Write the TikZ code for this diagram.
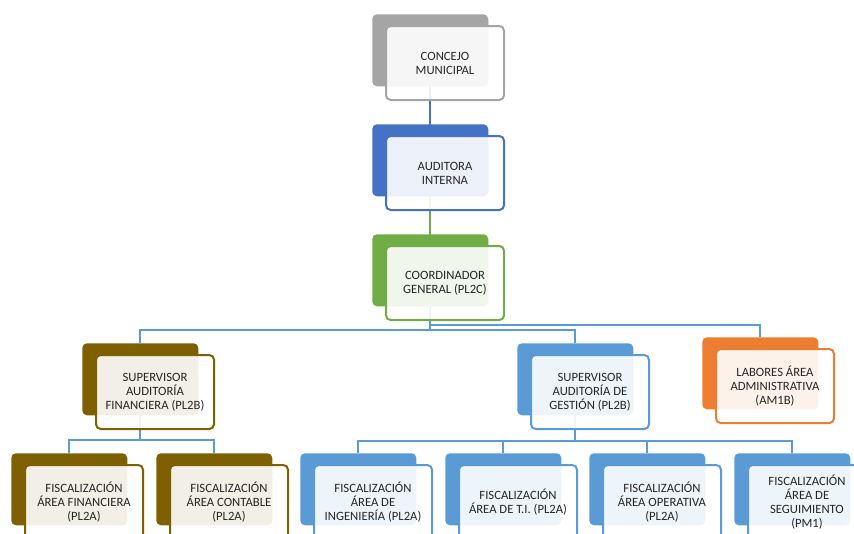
\documentclass[tikz,border=0pt]{standalone}
\usepackage{fontspec}
\setmainfont{Carlito}
\usetikzlibrary{backgrounds}
\definecolor{cgray}{HTML}{A5A5A5}
\definecolor{cblue}{HTML}{4472C4}
\definecolor{cgreen}{HTML}{70AD47}
\definecolor{cbrown}{HTML}{7F6000}
\definecolor{clblue}{HTML}{5B9BD5}
\definecolor{corange}{HTML}{ED7D31}
\begin{document}
\begin{tikzpicture}[x=0.75pt,y=-0.75pt,
  back/.style={fill=#1,rounded corners=3.5pt,anchor=north west,minimum width=87pt,minimum height=54pt,inner sep=0pt},
  front/.style={draw=#1,line width=1.5pt,fill=white,fill opacity=0.9,text opacity=1,rounded corners=3.5pt,anchor=north west,minimum width=88.5pt,minimum height=55.5pt,inner sep=0pt,align=center,text=black!85,font=\fontsize{9.5}{10.5}\selectfont},
  conn/.style={draw=#1,line width=1.5pt}]
  \useasboundingbox (0,0) rectangle (854,533);
  \clip (0,0) rectangle (854,533);
  \coordinate (bar2) at (0,330);
  \coordinate (bar2r) at (0,325);
  \coordinate (bar3) at (0,440);
  \coordinate (bar3r) at (0,441);

  \node[back=cgray] (concejo-b) at (372,14) {};
  \node[front=cgray] (concejo) at ([shift={(13,11)}]concejo-b.north west) {CONCEJO\\MUNICIPAL};
  \node[back=cblue] (auditora-b) at (372,124) {};
  \node[front=cblue] (auditora) at ([shift={(13,11)}]auditora-b.north west) {AUDITORA\\INTERNA};
  \node[back=cgreen] (coord-b) at (372,234) {};
  \node[front=cgreen] (coord) at ([shift={(13,11)}]coord-b.north west) {COORDINADOR\\GENERAL (PL2C)};

  \node[back=cbrown] (supfin-b) at (82,343) {};
  \node[front=cbrown] (supfin) at ([shift={(13,11)}]supfin-b.north west) {SUPERVISOR\\AUDITORÍA\\FINANCIERA (PL2B)};
  \node[back=clblue] (supges-b) at (517,343) {};
  \node[front=clblue] (supges) at ([shift={(13,11)}]supges-b.north west) {SUPERVISOR\\AUDITORÍA DE\\GESTIÓN (PL2B)};
  \node[back=corange] (labores-b) at (702,337) {};
  \node[front=corange] (labores) at ([shift={(13,11)}]labores-b.north west) {LABORES ÁREA\\ADMINISTRATIVA\\(AM1B)};

  \node[back=cbrown] (fin-b) at (11,453) {};
  \node[front=cbrown] (fin) at ([shift={(13,11)}]fin-b.north west) {FISCALIZACIÓN\\ÁREA FINANCIERA\\(PL2A)};
  \node[back=cbrown] (cont-b) at (156,453) {};
  \node[front=cbrown] (cont) at ([shift={(13,11)}]cont-b.north west) {FISCALIZACIÓN\\ÁREA CONTABLE\\(PL2A)};
  \node[back=clblue] (ing-b) at (300,453) {};
  \node[front=clblue] (ing) at ([shift={(13,11)}]ing-b.north west) {FISCALIZACIÓN\\ÁREA DE\\INGENIERÍA (PL2A)};
  \node[back=clblue] (ti-b) at (445,453) {};
  \node[front=clblue] (ti) at ([shift={(13,11)}]ti-b.north west) {FISCALIZACIÓN\\ÁREA DE T.I. (PL2A)};
  \node[back=clblue] (oper-b) at (589,453) {};
  \node[front=clblue] (oper) at ([shift={(13,11)}]oper-b.north west) {FISCALIZACIÓN\\ÁREA OPERATIVA\\(PL2A)};
  \node[back=clblue] (seg-b) at (734,453) {};
  \node[front=clblue] (seg) at ([shift={(13,11)}]seg-b.north west) {FISCALIZACIÓN\\ÁREA DE\\SEGUIMIENTO\\(PM1)};

  \begin{scope}[on background layer]
    \draw[conn=cblue] (concejo-b.center) -- (auditora-b.center);
    \draw[conn=cgreen] (auditora-b.center) -- (coord-b.center);
    \draw[conn=clblue] (coord-b.center) |- (bar2 -| supfin-b.north) -- (supfin-b.north);
    \draw[conn=clblue] (coord-b.center) |- (bar2 -| supges-b.north) -- (supges-b.north);
    \draw[conn=clblue] (coord-b.center) |- (bar2r -| labores-b.north) -- (labores-b.north);
    \draw[conn=clblue] (supfin-b.center) |- (bar3 -| fin-b.north) -- (fin-b.north);
    \draw[conn=clblue] (supfin-b.center) |- (bar3 -| cont-b.north) -- (cont-b.north);
    \draw[conn=clblue] (supges-b.center) |- (bar3r -| ing-b.north) -- (ing-b.north);
    \draw[conn=clblue] (supges-b.center) |- (bar3r -| ti-b.north) -- (ti-b.north);
    \draw[conn=clblue] (supges-b.center) |- (bar3r -| oper-b.north) -- (oper-b.north);
    \draw[conn=clblue] (supges-b.center) |- (bar3r -| seg-b.north) -- (seg-b.north);
  \end{scope}
\end{tikzpicture}
\end{document}
